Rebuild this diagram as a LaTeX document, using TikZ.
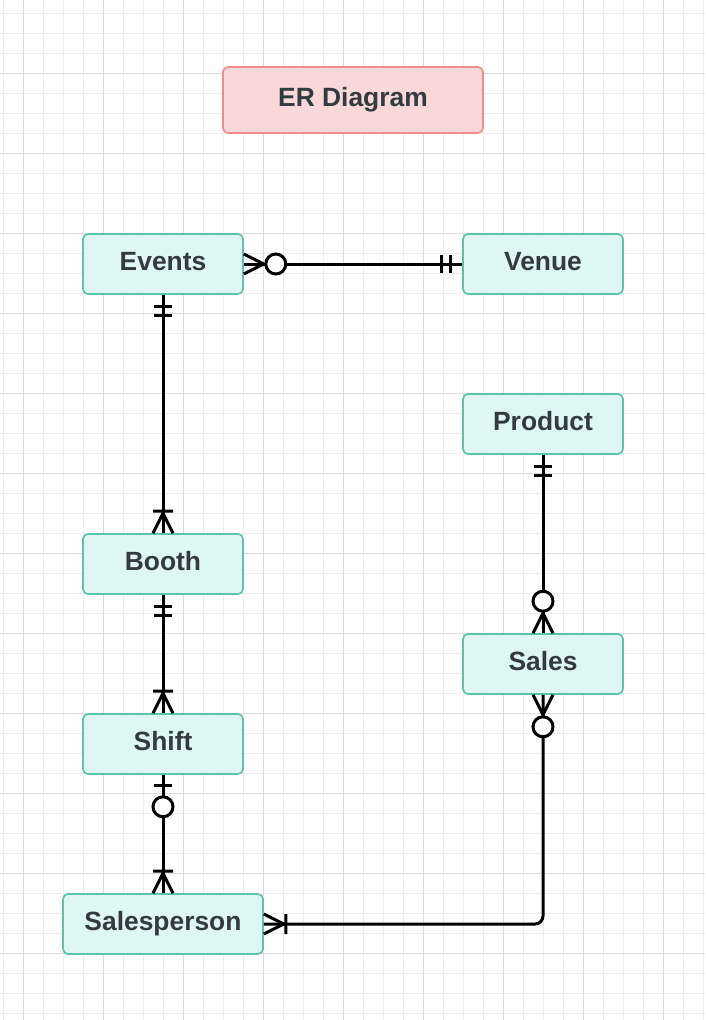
\documentclass[tikz,border=0pt]{standalone}
\usepackage{fontspec}
\setmainfont{Liberation Sans}
\usepackage{tikz}
\definecolor{entfill}{HTML}{DFF7F3}
\definecolor{entline}{HTML}{5CC2AC}
\definecolor{ttlfill}{HTML}{F8D8D9}
\definecolor{ttlline}{HTML}{F08C8C}
\definecolor{txt}{HTML}{333A40}
\tikzstyle{entity} = [draw=entline, fill=entfill, line width=1.6pt, rounded corners=5pt, minimum width=160pt, minimum height=60pt, font={\fontsize{26.4}{30}\selectfont\bfseries}, text=txt, text depth=6pt, text height=19pt]
\tikzstyle{title} = [entity, draw=ttlline, fill=ttlfill, minimum width=260pt, minimum height=66pt]
\tikzstyle{rel} = [line width=3pt, black]
\tikzstyle{minorline} = [draw=black!7, line width=1pt]
\tikzstyle{majorline} = [draw=black!14, line width=1pt]
\tikzset{
  pics/mandone/.style={code={\draw[rel] (12,-9)--(12,9) (21,-9)--(21,9);}},
  pics/onemany/.style={code={\draw[rel] (0,-10)--(20,0)--(0,10) (22,-10)--(22,10);}},
  pics/zeromany/.style={code={\draw[rel] (0,-10)--(20,0)--(0,10); \draw[rel,fill=white] (32,0) circle[radius=10pt];}},
  pics/zeroone/.style={code={\draw[rel] (11,-9)--(11,9); \draw[rel,fill=white] (32,0) circle[radius=10pt];}}
}

\begin{document}
\begin{tikzpicture}[x=1pt,y=-1pt]
  \useasboundingbox[fill=white] (0,0) rectangle (705,1020);
  \foreach \x in {3,23,...,703} \draw[minorline] (\x,0)--(\x,1020);
  \foreach \y in {13,33,...,1013} \draw[minorline] (0,\y)--(705,\y);
  \foreach \x in {23,103,...,663} \draw[majorline] (\x,0)--(\x,1020);
  \foreach \y in {73,153,...,953} \draw[majorline] (0,\y)--(705,\y);

  \node[title](er) at (353,100){ER Diagram};
  \node[entity](events) at (163,264){Events};
  \node[entity](venue) at (543,264){Venue};
  \node[entity](product) at (543,424){Product};
  \node[entity](booth) at (163,564){Booth};
  \node[entity](sales) at (543,664){Sales};
  \node[entity](shift) at (163,744){Shift};
  \node[entity, minimum width=200pt](salesperson) at (163,924){Salesperson};

  \draw[rel](events.east)--(venue.west);
  \draw[rel](events.south)--(booth.north);
  \draw[rel](booth.south)--(shift.north);
  \draw[rel](shift.south)--(salesperson.north);
  \draw[rel](product.south)--(sales.north);
  \draw[rel, rounded corners=8pt](sales.south)|-(salesperson.east);

  \pic at (events.east) {zeromany};
  \pic[rotate=180] at (venue.west) {mandone};
  \pic[rotate=-90] at (events.south) {mandone};
  \pic[rotate=90] at (booth.north) {onemany};
  \pic[rotate=-90] at (booth.south) {mandone};
  \pic[rotate=90] at (shift.north) {onemany};
  \pic[rotate=-90] at (shift.south) {zeroone};
  \pic[rotate=90] at (salesperson.north) {onemany};
  \pic[rotate=-90] at (product.south) {mandone};
  \pic[rotate=90] at (sales.north) {zeromany};
  \pic[rotate=-90] at (sales.south) {zeromany};
  \pic at (salesperson.east) {onemany};
\end{tikzpicture}
\end{document}
